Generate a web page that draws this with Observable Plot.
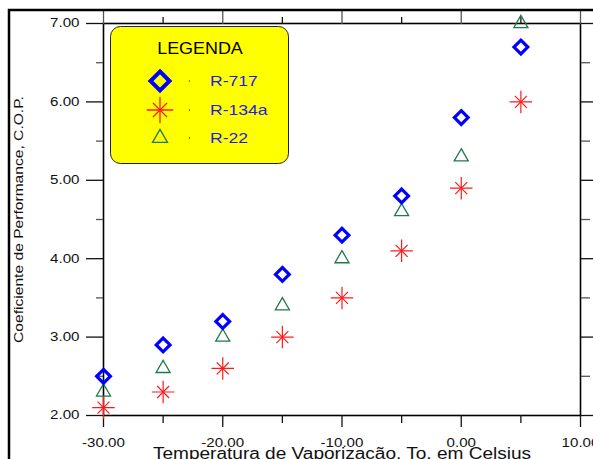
<!DOCTYPE html>
<html><head><meta charset="utf-8">
<script src="https://cdn.jsdelivr.net/npm/d3@7"></script>
<script src="https://cdn.jsdelivr.net/npm/@observablehq/plot@0.6"></script>
<style>
body{margin:0;background:#fff;}
#chart{position:relative;width:593px;height:459px;overflow:hidden;}
</style>
</head><body><div id="chart"></div>
<script>
const temperatures = [-30, -25, -20, -15, -10, -5, 0, 5];
const copR717 = [2.5, 2.9, 3.2, 3.8, 4.3, 4.8, 5.8, 6.7];
const copR134a = [2.1, 2.3, 2.6, 3.0, 3.5, 4.1, 4.9, 6.0];
const copR22 = [2.3, 2.6, 3.0, 3.4, 4.0, 4.6, 5.3, 7.0];
const seriesNames = ["R-717", "R-134a", "R-22"];
const xMajorTicks = [-30, -20, -10, 0, 10];
const xMinorTicks = [-25, -15, -5, 5];
const yMajorTicks = [2, 3, 4, 5, 6, 7];
const yMinorTicks = [2.5, 3.5, 4.5, 5.5, 6.5];
const xTitle = "Temperatura de Vaporização, To, em Celsius";
const yTitle = "Coeficiente de Performance, C.O.P.";
const legendTitle = "LEGENDA";

const rows = (vals, s) => temperatures.map((t, i) => ({t, cop: vals[i], series: s}));
const r717 = rows(copR717, seriesNames[0]);
const r134a = rows(copR134a, seriesNames[1]);
const r22 = rows(copR22, seriesNames[2]);

const BLUE = "#0000ff", RED = "#ff1a1a", GREEN = "#1f7a45";
const FONT = "Arial, 'Liberation Sans', sans-serif";
const blank = () => "";

const chart = Plot.plot({
  width: 593, height: 459,
  marginLeft: 103, marginRight: 13, marginTop: 23, marginBottom: 44,
  x: {domain: [-30, 10]},
  y: {domain: [2, 7]},
  style: {fontFamily: FONT, fontSize: "12px", background: "transparent", overflow: "visible", color: "#111"},
  marks: [
    Plot.frame({stroke: "#000", strokeWidth: 1.6}),
    Plot.axisX(xMajorTicks, {anchor: "bottom", tickSize: 12, tickPadding: 11, tickFormat: d => d.toFixed(2), label: null, strokeWidth: 1.3, fontSize: 12}),
    Plot.axisX(xMinorTicks, {anchor: "bottom", tickSize: 8, tickFormat: blank, label: null, strokeWidth: 1.3}),
    Plot.axisX(xMajorTicks, {anchor: "top", tickSize: 13, tickFormat: blank, label: null, strokeWidth: 1.3, stroke: "#555"}),
    Plot.axisX(xMinorTicks, {anchor: "top", tickSize: 7, tickFormat: blank, label: null, strokeWidth: 1.3}),
    Plot.axisY(yMajorTicks, {anchor: "left", tickSize: 17, tickPadding: 7, tickFormat: d => d.toFixed(2), label: null, strokeWidth: 1.3, fontSize: 12}),
    Plot.axisY(yMinorTicks, {anchor: "left", tickSize: 7, tickFormat: blank, label: null, strokeWidth: 1.3, stroke: "#555"}),
    Plot.axisY(yMajorTicks, {anchor: "right", tickSize: 14, tickFormat: blank, label: null, strokeWidth: 1.3}),
    Plot.axisY(yMinorTicks, {anchor: "right", tickSize: 9, tickFormat: blank, label: null, strokeWidth: 1.3, stroke: "#555"}),
    Plot.text([xTitle], {frameAnchor: "bottom", dy: 43, fontSize: 16, fill: "#111", className: "xtitle"}),
    Plot.text([yTitle], {frameAnchor: "left", textAnchor: "middle", rotate: -90, dx: -85, fontSize: 13, fill: "#111", className: "ytitle"}),
    Plot.dot(r22, {x: "t", y: "cop", symbol: "triangle2", r: 6.7, stroke: GREEN, strokeWidth: 1.3}),
    Plot.dot(r134a, {x: "t", y: "cop", symbol: "plus", r: 7.3, stroke: RED, strokeWidth: 1.2}),
    Plot.dot(r134a, {x: "t", y: "cop", symbol: "times", r: 5.5, stroke: RED, strokeWidth: 1.2}),
    Plot.dot(r717, {x: "t", y: "cop", symbol: "diamond2", r: 6.2, stroke: BLUE, strokeWidth: 3.2})
  ]
});

document.getElementById("chart").appendChild(chart);

const svg = d3.select(chart);

// Outer frame (decoration)
svg.append("rect").attr("x", 9).attr("y", 10).attr("width", 800).attr("height", 800)
  .attr("fill", "none").attr("stroke", "#000").attr("stroke-width", 2.5);

// Legend
const lg = svg.append("g").attr("font-family", FONT).attr("text-anchor", "start");
lg.append("rect").attr("x", 110.5).attr("y", 26.5).attr("width", 178).attr("height", 137).attr("rx", 10)
  .attr("fill", "#ffff00").attr("stroke", "#222").attr("stroke-width", 1);
lg.append("text").attr("class", "lgtitle").attr("x", 200).attr("y", 54).attr("text-anchor", "middle")
  .attr("font-size", 16).attr("fill", "#000").text(legendTitle);
const entryY = [81, 110, 138];
const sym = (type, size) => d3.symbol().type(type).size(size)();
lg.append("path").attr("d", sym(d3.symbolDiamond2, 230)).attr("transform", `translate(160,${entryY[0]})`)
  .attr("fill", "none").attr("stroke", BLUE).attr("stroke-width", 4);
lg.append("path").attr("d", sym(d3.symbolPlus, 230)).attr("transform", `translate(160,${entryY[1]})`)
  .attr("fill", "none").attr("stroke", RED).attr("stroke-width", 1.3);
lg.append("path").attr("d", sym(d3.symbolTimes, 130)).attr("transform", `translate(160,${entryY[1]})`)
  .attr("fill", "none").attr("stroke", RED).attr("stroke-width", 1.3);
lg.append("path").attr("d", sym(d3.symbolTriangle2, 160)).attr("transform", `translate(160,${entryY[2]})`)
  .attr("fill", "none").attr("stroke", GREEN).attr("stroke-width", 1.3);
seriesNames.forEach((name, i) => {
  lg.append("rect").attr("x", 189).attr("y", entryY[i] - 0.5).attr("width", 1).attr("height", 1).attr("fill", "#000");
  lg.append("text").attr("class", "lglabel").attr("x", 210).attr("y", entryY[i]).attr("dy", "0.36em")
    .attr("font-size", 15).attr("fill", "#1c1ce0").text(name);
});

// Horizontal stretch of text to match the reference's wide lettering
function stretch(sel, factor) {
  sel.each(function () {
    const L = this.getComputedTextLength();
    if (L > 0) d3.select(this).attr("textLength", L * factor).attr("lengthAdjust", "spacingAndGlyphs");
  });
}
stretch(svg.selectAll("g[aria-label='x-axis tick label'] text, g[aria-label='y-axis tick label'] text"), 1.26);
stretch(svg.selectAll(".xtitle text"), 1.19);
stretch(svg.selectAll(".ytitle text"), 1.2);
stretch(svg.selectAll(".lgtitle"), 1.12);
stretch(svg.selectAll(".lglabel"), 1.17);
</script>
</body></html>
